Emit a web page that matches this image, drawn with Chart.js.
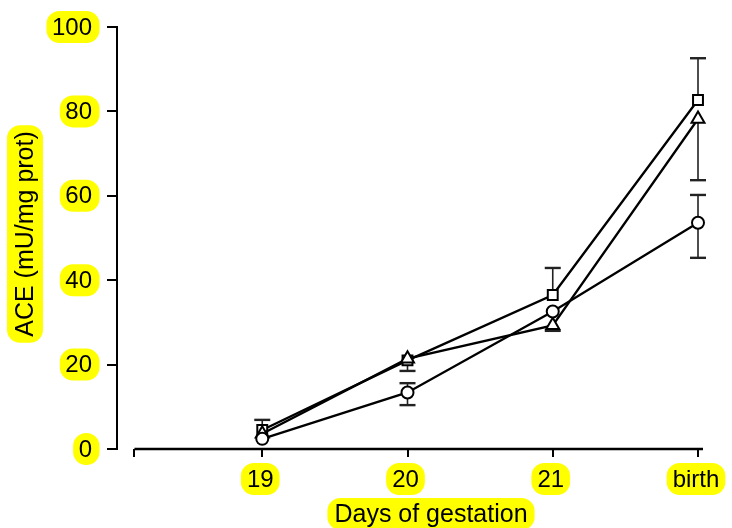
<!DOCTYPE html>
<html>
<head>
<meta charset="utf-8">
<script src="https://cdn.jsdelivr.net/npm/chart.js@4.4.1/dist/chart.umd.min.js"></script>
<style>
  html, body { margin: 0; padding: 0; background: #fff; }
  #wrap { width: 732px; height: 528px; }
</style>
</head>
<body>
<div id="wrap"><canvas id="aceChart"></canvas></div>
<script>
/* ACE activity vs days of gestation, three groups with SE bars */

const days = [19, 20, 21, 22];
const dayLabels = ['19', '20', '21', 'birth'];
const yTicks = [0, 20, 40, 60, 80, 100];
const xAxisStart = 18.12;

const squareVals = [4.5, 21, 36.5, 82.7];
const squareHi   = [6.9, null, 42.9, 92.6];
const squareLo   = [null, null, null, null];

const triangleVals = [3.6, 21.4, 29.3, 78.2];
const triangleHi   = [null, null, null, null];
const triangleLo   = [null, 18.5, 28.0, 63.7];

const circleVals = [2.4, 13.4, 32.6, 53.6];
const circleHi   = [null, 15.6, null, 60.2];
const circleLo   = [null, 10.4, null, 45.3];

const FONT = '"Liberation Sans", Arial, Helvetica, sans-serif';
const HIGHLIGHT = '#ffff00';

function toPoints(vals) {
    return days.map((d, i) => ({ x: d, y: vals[i] }));
}

function makeSeries(vals, style, radius, hi, lo, order) {
    return {
        data: toPoints(vals),
        borderColor: '#000',
        borderWidth: 2.3,
        pointStyle: style,
        pointRadius: radius,
        pointBorderWidth: 2,
        pointBorderColor: '#000',
        pointBackgroundColor: '#fff',
        tension: 0,
        clip: false,
        order: order,
        errHi: hi,
        errLo: lo
    };
}

// error bars go under the markers so the white fill hides the inner part
const errorBarsPlugin = {
    id: 'errorBars',
    beforeDatasetsDraw(chart) {
        const { ctx, scales } = chart;
        ctx.save();
        chart.data.datasets.forEach((ds, di) => {
            const meta = chart.getDatasetMeta(di);
            meta.data.forEach((pt, i) => {
                [ds.errHi[i], ds.errLo[i]].forEach(v => {
                    if (v == null) return;
                    const yEnd = scales.y.getPixelForValue(v);
                    ctx.strokeStyle = '#222';
                    ctx.lineWidth = 1.6;
                    ctx.beginPath();
                    ctx.moveTo(pt.x, pt.y);
                    ctx.lineTo(pt.x, yEnd);
                    ctx.stroke();
                    ctx.lineWidth = 2.4;
                    ctx.beginPath();
                    ctx.moveTo(pt.x - 8, yEnd);
                    ctx.lineTo(pt.x + 8, yEnd);
                    ctx.stroke();
                });
            });
        });
        ctx.restore();
    }
};

function pill(ctx, cx, cy, w, h) {
    ctx.fillStyle = HIGHLIGHT;
    ctx.beginPath();
    ctx.roundRect(cx - w / 2, cy - h / 2, w, h, Math.min(13, h / 2));
    ctx.fill();
}

// axis line with a gap at the corner, plus highlighted labels
const axisTextPlugin = {
    id: 'axisText',
    afterDraw(chart) {
        const { ctx, scales, chartArea } = chart;
        const xs = scales.x, ys = scales.y;
        ctx.save();

        ctx.strokeStyle = '#000';
        ctx.lineWidth = 2.4;
        ctx.beginPath();
        ctx.moveTo(xs.getPixelForValue(xAxisStart), chartArea.bottom);
        ctx.lineTo(chartArea.right + 5, chartArea.bottom);
        ctx.stroke();

        ctx.font = '24px ' + FONT;
        ctx.textBaseline = 'middle';

        yTicks.forEach(v => {
            const y = ys.getPixelForValue(v);
            const label = String(v);
            const w = ctx.measureText(label).width;
            const right = chartArea.left - 25;
            pill(ctx, right - w / 2 + 1, y, w + 13, 32);
            ctx.fillStyle = '#000';
            ctx.textAlign = 'right';
            ctx.fillText(label, right, y + 1);
        });

        days.forEach((d, i) => {
            const x = xs.getPixelForValue(d) - 2;
            const y = chartArea.bottom + 30;
            const w = ctx.measureText(dayLabels[i]).width;
            pill(ctx, x, y, w + 12, 32);
            ctx.fillStyle = '#000';
            ctx.textAlign = 'center';
            ctx.fillText(dayLabels[i], x, y + 1);
        });

        ctx.font = '25px ' + FONT;
        const xt = 'Days of gestation';
        const xtw = ctx.measureText(xt).width;
        pill(ctx, 431, 514, xtw + 14, 32);
        ctx.fillStyle = '#000';
        ctx.textAlign = 'center';
        ctx.fillText(xt, 431, 515);

        const yt = 'ACE (mU/mg prot)';
        const ytw = ctx.measureText(yt).width;
        ctx.translate(25, 234);
        ctx.rotate(-Math.PI / 2);
        pill(ctx, 0, 0, ytw + 12, 36);
        ctx.fillStyle = '#000';
        ctx.fillText(yt, 0, 1);

        ctx.restore();
    }
};

new Chart(document.getElementById('aceChart'), {
    type: 'line',
    data: {
        datasets: [
            makeSeries(squareVals, 'rect', 7, squareHi, squareLo, 2),
            makeSeries(triangleVals, 'triangle', 7.5, triangleHi, triangleLo, 1),
            makeSeries(circleVals, 'circle', 6, circleHi, circleLo, 0)
        ]
    },
    options: {
        responsive: true,
        maintainAspectRatio: false,
        animation: false,
        layout: { padding: { left: 107, right: 34, top: 27, bottom: 71 } },
        plugins: {
            legend: { display: false },
            tooltip: { enabled: false }
        },
        scales: {
            x: {
                type: 'linear',
                min: 18,
                max: 22,
                afterBuildTicks: s => { s.ticks = [xAxisStart, ...days].map(v => ({ value: v })); },
                ticks: { display: false },
                border: { display: false },
                grid: { drawOnChartArea: false, tickLength: 8, color: '#000', lineWidth: 2 }
            },
            y: {
                min: 0,
                max: 100,
                afterBuildTicks: s => { s.ticks = yTicks.map(v => ({ value: v })); },
                ticks: { display: false },
                border: { display: true, color: '#000', width: 2 },
                grid: { drawOnChartArea: false, tickLength: 10, color: '#000', lineWidth: 2 }
            }
        }
    },
    plugins: [errorBarsPlugin, axisTextPlugin]
});
</script>
</body>
</html>
